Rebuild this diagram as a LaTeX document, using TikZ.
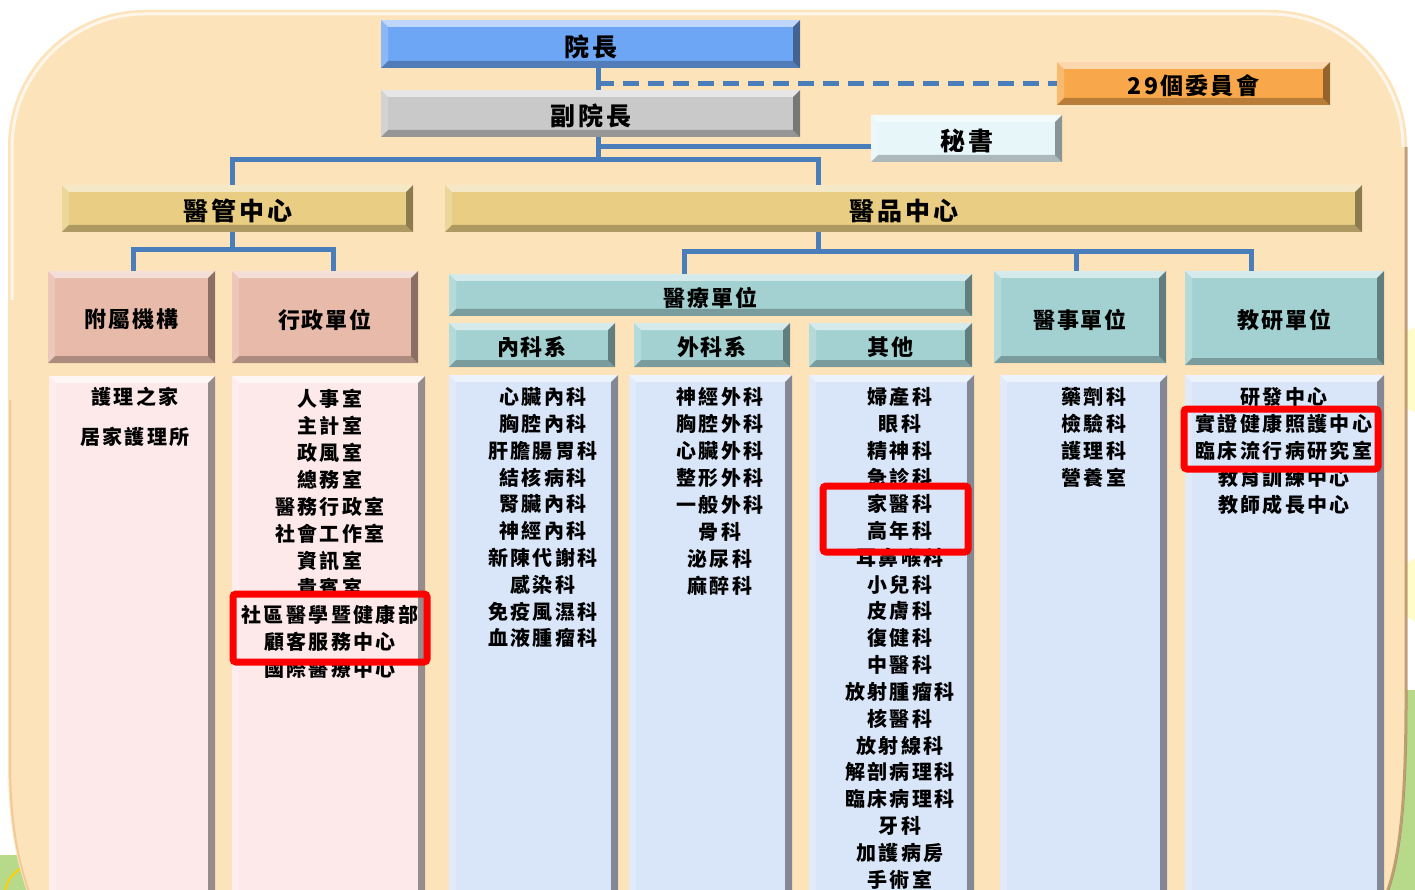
\documentclass[tikz,border=0pt]{standalone}
\usepackage{fontspec}
\newfontfamily\cjk{Noto Sans CJK TC}
\usetikzlibrary{calc}
\definecolor{peach}{HTML}{FDE3BA}
\definecolor{cline}{HTML}{4A7EBB}
\definecolor{cYZ}{HTML}{6EA6F6}
\definecolor{cFYZ}{HTML}{C9C9C9}
\definecolor{cWYH}{HTML}{F8A84A}
\definecolor{cMS}{HTML}{E6F6F9}
\definecolor{cGold}{HTML}{E8CD82}
\definecolor{cSal}{HTML}{E8BAA9}
\definecolor{cTeal}{HTML}{A3D1D1}
\definecolor{cPink}{HTML}{FDE9EA}
\definecolor{cBlue}{HTML}{D9E5F8}
\definecolor{cGreen}{HTML}{B6D98A}
\definecolor{cRed}{HTML}{FF0000}
\tikzset{
  bev/.style={path picture={
    \coordinate (bvA) at (path picture bounding box.north west);
    \coordinate (bvB) at (path picture bounding box.north east);
    \coordinate (bvC) at (path picture bounding box.south east);
    \coordinate (bvD) at (path picture bounding box.south west);
    \fill[white,opacity=.55] (bvA) -- (bvB) -- ([shift={(-#1pt,-#1pt)}]bvB) -- ([shift={(#1pt,-#1pt)}]bvA) -- cycle;
    \fill[white,opacity=.2] (bvA) -- ([shift={(#1pt,-#1pt)}]bvA) -- ([shift={(#1pt,#1pt)}]bvD) -- (bvD) -- cycle;
    \fill[black,opacity=.4] (bvB) -- (bvC) -- ([shift={(-#1pt,#1pt)}]bvC) -- ([shift={(-#1pt,-#1pt)}]bvB) -- cycle;
    \fill[black,opacity=.25] (bvD) -- (bvC) -- ([shift={(-#1pt,#1pt)}]bvC) -- ([shift={(#1pt,#1pt)}]bvD) -- cycle;
  }},
  bev/.default=7,
  box/.style={anchor=north west, inner sep=0pt, outer sep=0pt, text=black, bev},
  hA/.style={font=\cjk\bfseries\fontsize{25}{28}\selectfont\addfontfeature{LetterSpace=12}},
  hB/.style={font=\cjk\bfseries\fontsize{23}{26}\selectfont\addfontfeature{LetterSpace=10}},
  hC/.style={font=\cjk\bfseries\fontsize{22}{26}\selectfont\addfontfeature{LetterSpace=9}},
  item/.style={font=\cjk\bfseries\fontsize{20}{24}\selectfont\addfontfeature{LetterSpace=12}, inner sep=0pt, text=black},
  conn/.style={draw=cline, line width=5pt},
  dconn/.style={draw=cline, line width=4.5pt, dash pattern=on 16pt off 9pt},
  hl/.style={anchor=north west, draw=cRed, line width=7pt, rounded corners=3pt, inner sep=0pt}
}
\newcommand\bx[7]{\node[box,#6,minimum width={(#4-#2)*1pt},minimum height={(#5-#3)*1pt}] (#1) at (#2,#3) {\raisebox{-2.5pt}[\height][\depth]{#7}};}
\newcommand\hlbox[5]{\node[hl,minimum width={(#4-#2)*1pt},minimum height={(#5-#3)*1pt}] (#1) at (#2,#3) {};}
\begin{document}
\begin{tikzpicture}[x=1pt,y=-1pt]
\useasboundingbox (0,0) rectangle (1415,890);
\begin{scope}
\clip (0,0) rectangle (1415,890);
\fill[white] (0,0) rectangle (1415,890);
% outside decoration
\fill[yellow!35,opacity=.6] (1430,370) circle (45);
\fill[yellow!35,opacity=.6] (1430,590) circle (35);
\fill[cGreen] (1380,690) rectangle (1415,900);
\fill[cGreen] (0,855) rectangle (70,900);
\draw[yellow!70!orange,line width=2pt] (5,895) arc (180:300:30);
% panel
\fill[peach] (30,900) .. controls (15,860) and (8,820) .. (8,760) -- (8,147)
  .. controls (8,71) and (69,10) .. (145,10) -- (1270,10)
  .. controls (1346,10) and (1407,71) .. (1407,147) -- (1407,700)
  .. controls (1407,820) and (1398,870) .. (1385,900) -- cycle;
\draw[white,opacity=.7,line width=3pt] (12,300) -- (12,147) .. controls (12,74) and (72,14) .. (145,14) -- (1270,14)
  .. controls (1343,14) and (1403,74) .. (1403,147);
\draw[brown!70!black,opacity=.5,line width=3pt] (1406,147) -- (1406,700) .. controls (1406,820) and (1397,870) .. (1384,900);
\draw[orange!30!brown,opacity=.25,line width=2pt] (10,400) -- (10,760) .. controls (10,820) and (17,860) .. (32,900);
% coordinates for connectors
\coordinate (tr) at (598,0);
\coordinate (hub) at (598,160);
\coordinate (msy) at (0,147);
\coordinate (bA) at (232,0);
\coordinate (bB) at (818,0);
\coordinate (h2) at (232,250);
\coordinate (c1) at (133,0);
\coordinate (c2) at (333,0);
\coordinate (h3) at (818,252);
\coordinate (d1) at (684,0);
\coordinate (d2) at (1076,0);
\coordinate (d3) at (1251,0);
% boxes
\bx{yz}{381}{20}{800}{68}{fill=cYZ,hA}{院長}
\bx{fyz}{381}{90}{800}{137}{fill=cFYZ,hA}{副院長}
\bx{wyh}{1057}{62}{1330}{105}{fill=cWYH,hB}{29個委員會}
\bx{ms}{871}{115}{1062}{162}{fill=cMS,hA}{秘書}
\bx{ygz}{62}{185}{413}{232}{fill=cGold,hA}{醫管中心}
\bx{ypz}{445}{185}{1362}{232}{fill=cGold,hA}{醫品中心}
\bx{fs}{48}{271}{215}{363}{fill=cSal,hC}{附屬機構}
\bx{xz}{232}{271}{418}{363}{fill=cSal,hC}{行政單位}
\bx{yl}{449}{274}{972}{316}{fill=cTeal,hC}{醫療單位}
\bx{nk}{449}{323}{615}{367}{fill=cTeal,hC}{內科系}
\bx{wk}{634}{323}{790}{367}{fill=cTeal,hC}{外科系}
\bx{qt}{809}{323}{972}{367}{fill=cTeal,hC}{其他}
\bx{ys}{994}{271}{1166}{363}{fill=cTeal,hC}{醫事單位}
\bx{jy}{1185}{271}{1384}{365}{fill=cTeal,hC}{教研單位}
\bx{Lfs}{49}{376}{215}{900}{fill=cPink}{}
\bx{Lxz}{232}{376}{425}{900}{fill=cPink}{}
\bx{Lnk}{449}{375}{618}{900}{fill=cBlue}{}
\bx{Lwk}{629}{375}{792}{900}{fill=cBlue}{}
\bx{Lqt}{809}{375}{974}{900}{fill=cBlue}{}
\bx{Lys}{1000}{375}{1167}{900}{fill=cBlue}{}
\bx{Ljy}{1185}{375}{1384}{900}{fill=cBlue}{}
% connectors
\draw[conn] (yz.south -| tr) -- (fyz.north -| tr);
\draw[dconn] (tr |- wyh.west) -- (wyh.west);
\draw[conn] (fyz.south -| tr) -- (hub);
\draw[conn] (tr |- msy) -- (ms.west |- msy);
\draw[conn] (ygz.north -| bA) |- (hub) -| (ypz.north -| bB);
\draw[conn] (ygz.south -| bA) -- (h2);
\draw[conn] (fs.north -| c1) |- (h2) -| (xz.north -| c2);
\draw[conn] (ypz.south -| bB) -- (h3);
\draw[conn] (yl.north -| d1) |- (h3) -| (jy.north -| d3);
\draw[conn] (ys.north -| d2) -- (d2 |- h3);
% lists
\node[item] (fs1) at (135,397) {護理之家};
\node[item] (fs2) at (135,437) {居家護理所};
\foreach \t [count=\i] in {人事室,主計室,政風室,總務室,醫務行政室,社會工作室,資訊室,貴賓室,社區醫學暨健康部,顧客服務中心,國際醫療中心}
  \node[item] (xz\i) at (330,{399+27*(\i-1)}) {\t};
\foreach \t [count=\i] in {心臟內科,胸腔內科,肝膽腸胃科,結核病科,腎臟內科,神經內科,新陳代謝科,感染科,免疫風濕科,血液腫瘤科}
  \node[item] (nk\i) at (543,{397+26.8*(\i-1)}) {\t};
\foreach \t [count=\i] in {神經外科,胸腔外科,心臟外科,整形外科,一般外科,骨科,泌尿科,麻醉科}
  \node[item] (wk\i) at (720,{397+27*(\i-1)}) {\t};
\foreach \t [count=\i] in {婦產科,眼科,精神科,急診科,家醫科,高年科,耳鼻喉科,小兒科,皮膚科,復健科,中醫科,放射腫瘤科,核醫科,放射線科,解剖病理科,臨床病理科,牙科,加護病房,手術室}
  \node[item] (qt\i) at (900,{397+26.8*(\i-1)}) {\t};
\foreach \t [count=\i] in {藥劑科,檢驗科,護理科,營養室}
  \node[item] (ys\i) at (1094,{397+27*(\i-1)}) {\t};
\foreach \t [count=\i] in {研發中心,實證健康照護中心,臨床流行病研究室,教育訓練中心,教師成長中心}
  \node[item] (jy\i) at (1284,{397+27*(\i-1)}) {\t};
% highlights
\hlbox{hl1}{229.5}{590.5}{423.5}{658.5}
\hlbox{hl2}{819.5}{482.5}{964.5}{548.5}
\hlbox{hl3}{1180.5}{405.5}{1374.5}{465.5}
\end{scope}
\end{tikzpicture}
\end{document}
